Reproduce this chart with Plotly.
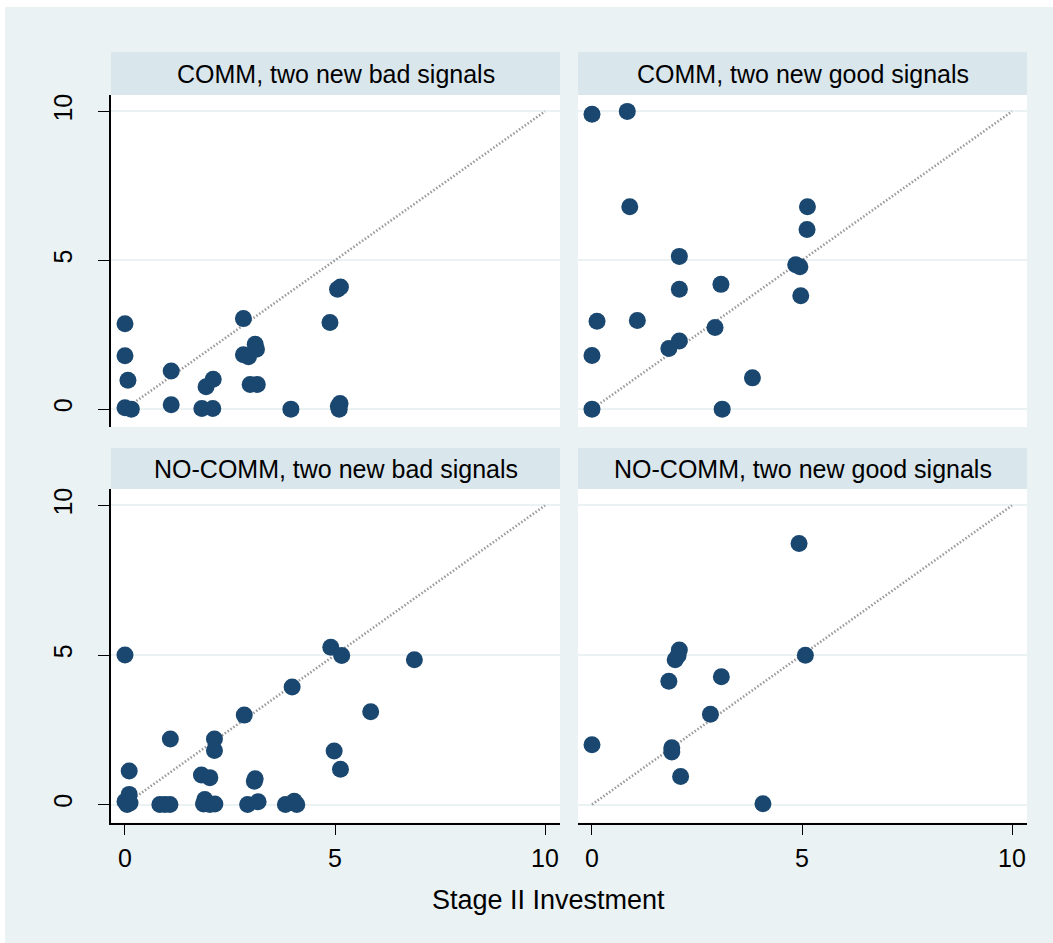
import plotly.graph_objects as go

# ---------------- data ----------------
panel_titles = ["COMM, two new bad signals", "COMM, two new good signals",
                "NO-COMM, two new bad signals", "NO-COMM, two new good signals"]

tl_x = [0, 0, 0.07, 0, 0.15, 1.1, 1.1, 1.83, 2.09, 1.93, 2.1, 2.82, 2.82, 2.94, 3.1, 3.13,
        2.98, 3.15, 3.95, 4.88, 5.06, 5.13, 5.08, 5.1, 5.12]
tl_y = [2.87, 1.79, 0.97, 0.05, 0.0, 1.28, 0.15, 0.02, 0.02, 0.75, 1.0, 3.04, 1.83, 1.76, 2.18, 2.01,
        0.83, 0.83, 0.0, 2.91, 4.03, 4.1, 0.1, 0.0, 0.19]

tr_x = [0, 0.84, 0.9, 2.08, 2.08, 3.07, 0.12, 1.08, 0, 1.83, 2.08, 2.93, 3.82, 0, 3.1,
        5.13, 5.12, 4.85, 4.95, 4.97]
tr_y = [9.9, 10.0, 6.8, 5.13, 4.03, 4.19, 2.95, 2.98, 1.8, 2.04, 2.29, 2.74, 1.05, 0.0, 0.0,
        6.8, 6.03, 4.85, 4.78, 3.81]

bl_x = [0, 0.1, 0.1, 0, 0.05, 0.12, 1.08, 0.83, 0.95, 1.07, 1.82, 2.02, 2.13, 2.13,
        1.9, 1.87, 2.02, 2.14, 2.84, 3.08, 3.1, 2.92, 3.17, 3.82, 4.03, 4.09, 3.98,
        4.9, 5.16, 4.98, 5.13, 5.85, 6.89]
bl_y = [5.0, 1.12, 0.34, 0.1, 0.0, 0.05, 2.19, 0.0, 0.0, 0.0, 0.99, 0.9, 2.19, 1.81,
        0.17, 0.02, 0.0, 0.02, 2.99, 0.78, 0.86, 0.0, 0.09, 0.0, 0.11, 0.0, 3.93,
        5.26, 4.98, 1.79, 1.18, 3.1, 4.84]

br_x = [0, 4.93, 2.08, 1.98, 2.05, 1.83, 3.08, 2.82, 1.9, 1.9, 2.11, 4.07, 5.08]
br_y = [2.0, 8.73, 5.17, 4.84, 4.98, 4.12, 4.27, 3.02, 1.9, 1.76, 0.94, 0.03, 4.99]

diag_x = [0, 10]
diag_y = [0, 10]

tick_vals = [0, 5, 10]
tick_text = ["0", "5", "10"]
x_title = "Stage II Investment"

# ---------------- layout ----------------
W, H = 1053, 943
FONT = "Liberation Sans, Arial, sans-serif"
BG = "#EAF2F3"
STRIP = "#D9E6EC"
NAVY = "#1A476F"
GRID = "#EAF2F3"

# pixel boxes (left, right, top, bottom)
cols = [(111, 560), (578, 1027)]
rows = [(95, 427), (489, 822.5)]
strips = [(52, 95), (448, 489)]

def px_x(v):
    return v / W

def px_y(v):
    return 1 - v / H

series = [(tl_x, tl_y), (tr_x, tr_y), (bl_x, bl_y), (br_x, br_y)]

fig = go.Figure()
shapes = [dict(type="rect", xref="paper", yref="paper", x0=px_x(5), x1=1.0, y0=0.0, y1=px_y(7),
               fillcolor=BG, line=dict(width=0), layer="below")]
annotations = []
layout = dict(width=W, height=H, margin=dict(l=0, r=0, t=0, b=0),
              paper_bgcolor="white", plot_bgcolor="white", showlegend=False,
              font=dict(family=FONT, size=25, color="black"))

for i in range(4):
    r, c = divmod(i, 2)
    n = i + 1
    xa = "xaxis" if n == 1 else f"xaxis{n}"
    ya = "yaxis" if n == 1 else f"yaxis{n}"
    xr = "x" if n == 1 else f"x{n}"
    yr = "y" if n == 1 else f"y{n}"
    left, right = cols[c]
    top, bot = rows[r]
    bottom_row = r == 1
    left_col = c == 0
    layout[xa] = dict(domain=[px_x(left), px_x(right)], anchor=yr, range=[-0.333, 10.357],
                      showgrid=False, zeroline=False,
                      showline=bottom_row, linecolor="black", linewidth=1.5,
                      ticks="outside" if bottom_row else "", ticklen=11, tickcolor="black",
                      tickwidth=1.2, tickvals=tick_vals, ticktext=tick_text,
                      showticklabels=bottom_row, tickfont=dict(size=25), ticklabelstandoff=2)
    layout[ya] = dict(domain=[px_y(bot), px_y(top)], anchor=xr, range=[-0.6, 10.55],
                      showgrid=True, gridcolor=GRID, gridwidth=2, zeroline=False,
                      showline=left_col, linecolor="black", linewidth=1.5,
                      ticks="outside" if left_col else "", ticklen=11, tickcolor="black",
                      tickwidth=1.2, tickvals=tick_vals, ticktext=tick_text,
                      showticklabels=left_col, tickangle=-90, tickfont=dict(size=25),
                      ticklabelstandoff=16)
    # strip
    st, sb = strips[r]
    shapes.append(dict(type="rect", xref="paper", yref="paper",
                       x0=px_x(left), x1=px_x(right), y0=px_y(sb), y1=px_y(st),
                       fillcolor=STRIP, line=dict(width=0), layer="below"))
    annotations.append(dict(xref="paper", yref="paper", x=px_x((left + right) / 2),
                            y=px_y((st + sb) / 2), text=panel_titles[i], showarrow=False,
                            xanchor="center", yanchor="middle", font=dict(size=25)))
    # plot area background (white) over gray bg
    shapes.append(dict(type="rect", xref="paper", yref="paper",
                       x0=px_x(left), x1=px_x(right), y0=px_y(bot), y1=px_y(top),
                       fillcolor="white", line=dict(width=0), layer="below"))
    xs, ys = series[i]
    fig.add_trace(go.Scatter(x=diag_x, y=diag_y, mode="lines", xaxis=xr, yaxis=yr,
                             line=dict(color="#9a9a9a", width=2.6, dash="1.5px,2px"),
                             hoverinfo="skip"))
    fig.add_trace(go.Scatter(x=xs, y=ys, mode="markers", xaxis=xr, yaxis=yr,
                             marker=dict(color=NAVY, size=17, line=dict(width=0))))

annotations.append(dict(xref="paper", yref="paper", x=px_x(548), y=px_y(900), text=x_title,
                        showarrow=False, xanchor="center", yanchor="middle",
                        font=dict(size=27)))

layout["shapes"] = shapes
layout["annotations"] = annotations
fig.update_layout(**layout)
fig.write_html("out.html")
